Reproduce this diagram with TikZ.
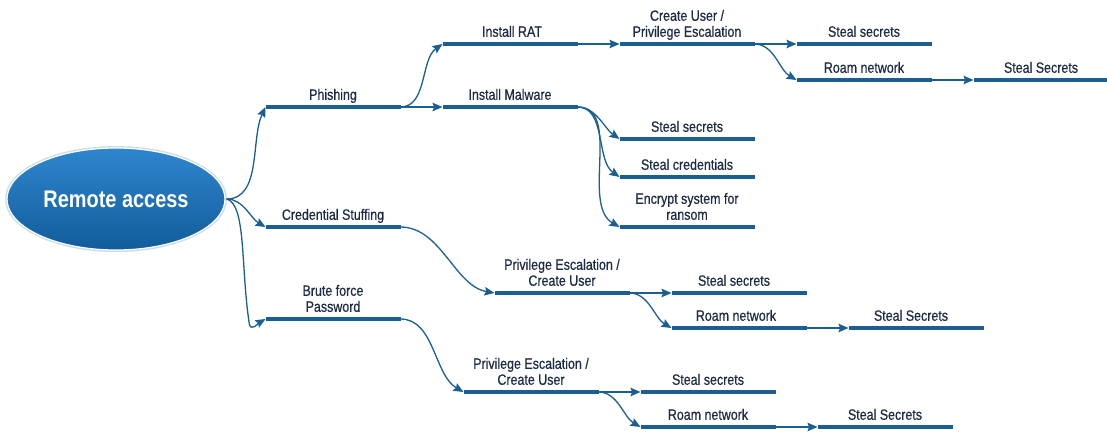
\documentclass[tikz,border=0pt]{standalone}
\usepackage{fontspec}
\setmainfont{Liberation Sans}[FakeStretch=0.83]
\usetikzlibrary{arrows.meta,calc,shapes.geometric}
\definecolor{barblue}{HTML}{1B5E91}
\definecolor{txt}{HTML}{1E2B45}
\definecolor{ellTop}{HTML}{2F86CE}
\definecolor{ellBot}{HTML}{125C9B}
\definecolor{ellRim}{HTML}{C9DCEC}
\begin{document}
\begin{tikzpicture}[x=1pt,y=1pt,
 bar/.style={rectangle, fill=barblue, draw=none, minimum width=135pt, minimum height=4.4pt, inner sep=0pt, outer sep=0pt},
 lbl/.style={font=\fontsize{15}{16}\selectfont\addfontfeature{FakeBold=0.6}, text=txt, anchor=south, inner sep=0pt, text depth=0pt, align=center},
 conn/.style={draw=barblue, line width=1.3pt, -{Stealth[length=10pt,width=8.5pt,inset=1.5pt]}},
]
\useasboundingbox (0,0) rectangle (1107,-431);

% central ellipse
\fill[ellRim] (116,-199) ellipse [x radius=111, y radius=53];
\node[ellipse, minimum width=218pt, minimum height=102pt, inner sep=0pt,
  top color=ellTop, bottom color=ellBot, draw=white, line width=1.2pt,
  font=\fontsize{24}{26}\selectfont\bfseries, text=white] (ra) at (116,-199) {Remote access};

% bars
\node[bar] (phish) at (333,-107) {};
\node[bar] (cred)  at (333,-227) {};
\node[bar] (brute) at (333,-319) {};
\node[bar] (rat)   at (510,-44) {};
\node[bar] (mal)   at (510,-107) {};
\node[bar] (cu)    at (687,-44) {};
\node[bar] (ssA)   at (864,-44) {};
\node[bar] (rnA)   at (864,-80) {};
\node[bar] (SSA)   at (1041,-80) {};
\node[bar] (ssM)   at (687,-139) {};
\node[bar] (scM)   at (687,-177) {};
\node[bar] (enc)   at (687,-227) {};
\node[bar] (peB)   at (562,-293) {};
\node[bar] (ssB)   at (739,-293) {};
\node[bar] (rnB)   at (739,-328) {};
\node[bar] (SSB)   at (916,-328) {};
\node[bar] (peC)   at (531,-392) {};
\node[bar] (ssC)   at (708,-392) {};
\node[bar] (rnC)   at (708,-427) {};
\node[bar] (SSC)   at (885,-427) {};

% labels
\node[lbl] (lphish) at ($(phish.center)+(0,7)$) {Phishing};
\node[lbl] (lcred)  at ($(cred.center)+(0,7)$) {Credential Stuffing};
\node[lbl] (lbrute) at ($(brute.center)+(0,7)$) {Brute force\\Password};
\node[lbl] (lrat)   at ($(rat.center)+(2,7)$) {Install RAT};
\node[lbl] (lmal)   at ($(mal.center)+(0,7)$) {Install Malware};
\node[lbl] (lcu)    at ($(cu.center)+(0,7)$) {Create User /\\Privilege Escalation};
\node[lbl] (lssA)   at ($(ssA.center)+(0,7)$) {Steal secrets};
\node[lbl] (lrnA)   at ($(rnA.center)+(0,7)$) {Roam network};
\node[lbl] (lSSA)   at ($(SSA.center)+(0,7)$) {Steal Secrets};
\node[lbl] (lssM)   at ($(ssM.center)+(0,7)$) {Steal secrets};
\node[lbl] (lscM)   at ($(scM.center)+(0,7)$) {Steal credentials};
\node[lbl] (lenc)   at ($(enc.center)+(0,7)$) {Encrypt system for\\ransom};
\node[lbl] (lpeB)   at ($(peB.center)+(0,7)$) {Privilege Escalation /\\Create User};
\node[lbl] (lssB)   at ($(ssB.center)+(-5,7)$) {Steal secrets};
\node[lbl] (lrnB)   at ($(rnB.center)+(-3,7)$) {Roam network};
\node[lbl] (lSSB)   at ($(SSB.center)+(-5,7)$) {Steal Secrets};
\node[lbl] (lpeC)   at ($(peC.center)+(0,7)$) {Privilege Escalation /\\Create User};
\node[lbl] (lssC)   at ($(ssC.center)+(0,7)$) {Steal secrets};
\node[lbl] (lrnC)   at ($(rnC.center)+(0,7)$) {Roam network};
\node[lbl] (lSSC)   at ($(SSC.center)+(0,7)$) {Steal Secrets};

% connectors from the ellipse
\coordinate (raout) at ($(ra.east)+(1,0)$);
\draw[conn] (raout) to[out=0, in=245, looseness=0.9] (phish.west);
\draw[conn] (raout) to[out=0, in=150, looseness=0.9] (cred.west);
\draw[conn] (raout) .. controls ($(raout)+(20,-5)$) and ($(brute.west)+(-25,50)$) .. ($(brute.west)+(-16,-6)$) to[out=-70,in=210] (brute.west);

% phishing branch
\draw[conn] (phish.east) to[out=0, in=215, looseness=0.9] (rat.west);
\draw[conn] (phish.east) -- (mal.west);
\draw[conn] (rat.east) -- (cu.west);
\draw[conn] (cu.east) -- (ssA.west);
\draw[conn] (cu.east) to[out=0, in=150, looseness=0.9] (rnA.west);
\draw[conn] (rnA.east) -- (SSA.west);

% malware fan
\draw[conn] (mal.east) to[out=0, in=145, looseness=0.9] (ssM.west);
\draw[conn] (mal.east) to[out=0, in=145, looseness=0.9] (scM.west);
\draw[conn] (mal.east) to[out=0, in=150, looseness=0.9] (enc.west);

% credential stuffing branch
\draw[conn] (cred.east) to[out=0, in=170, looseness=0.9] (peB.west);
\draw[conn] (peB.east) -- (ssB.west);
\draw[conn] (peB.east) to[out=0, in=150, looseness=0.9] (rnB.west);
\draw[conn] (rnB.east) -- (SSB.west);

% brute force branch
\draw[conn] (brute.east) to[out=0, in=150, looseness=0.9] (peC.west);
\draw[conn] (peC.east) -- (ssC.west);
\draw[conn] (peC.east) to[out=0, in=150, looseness=0.9] (rnC.west);
\draw[conn] (rnC.east) -- (SSC.west);
\end{tikzpicture}
\end{document}
